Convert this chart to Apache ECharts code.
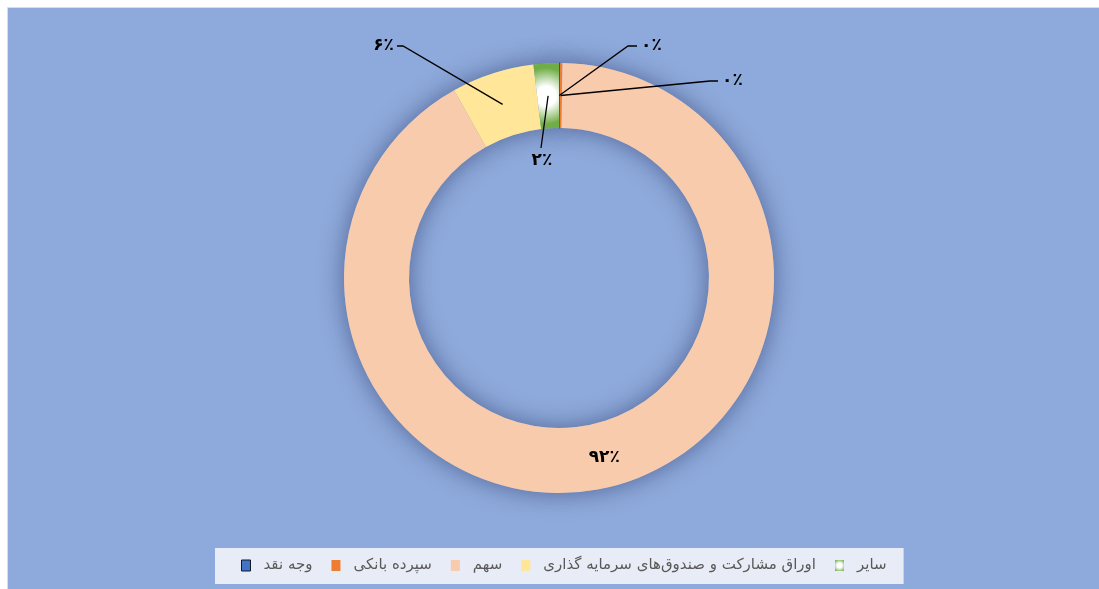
<!DOCTYPE html>
<html>
<head>
<meta charset="utf-8">
<script src="https://cdn.jsdelivr.net/npm/echarts@6/dist/echarts.min.js"></script>
<style>
  html, body { margin: 0; padding: 0; background: #ffffff; }
  #chart { width: 1099px; height: 589px; }
</style>
</head>
<body>
<div id="chart"></div>
<script>
// ---- data ----
const categories = ['وجه نقد', 'سپرده بانکی', 'سهم', 'اوراق مشارکت و صندوق‌های سرمایه گذاری', 'سایر'];
const shares = [0.05, 0.2, 91.65, 6.2, 1.9];

// ---- styles / layout ----
const CX = 559, CY = 278, R_IN = 150, R_OUT = 215;
const R_MID = (R_IN + R_OUT) / 2;
const sliceColors = [
  '#4472C4',
  '#ED7D31',
  '#F8CBAD',
  '#FFE699',
  { type: 'radial', x: 0.5, y: 0.5, r: 1.1,
    colorStops: [{ offset: 0, color: '#ffffff' }, { offset: 0.35, color: '#ffffff' }, { offset: 1, color: '#70AD47' }] }
];
const legendGreen = { type: 'radial', x: 0.5, y: 0.5, r: 0.75,
  colorStops: [{ offset: 0, color: '#ffffff' }, { offset: 0.35, color: '#ffffff' }, { offset: 1, color: '#70AD47' }] };
// label guide placement relative to pie centre (elbow, end, label anchor)
const guides = {
  0: { elbow: [69, -232], end: [78, -232], label: [82, -232], align: 'left' },
  1: { elbow: [151, -197], end: [159, -197], label: [163, -197], align: 'left' },
  3: { elbow: [-156, -232], end: [-162, -232], label: [-165, -232], align: 'right' },
  4: { elbow: null, end: [-18, -130], label: [-17, -117], align: 'center' }
};

const faDigits = '۰۱۲۳۴۵۶۷۸۹';
function toFa(n) { return String(n).replace(/\d/g, d => faDigits[+d]); }

const chart = echarts.init(document.getElementById('chart'), null, { renderer: 'canvas' });

const mainData = categories.map((name, i) => {
  const item = { name: name, value: shares[i], itemStyle: { color: sliceColors[i] } };
  if (i === 0) {
    item.itemStyle.borderColor = '#1F2A44';
    item.itemStyle.borderWidth = 1;
  }
  return item;
});

const labelData = categories.map((name, i) => {
  const item = { name: name, value: shares[i] };
  if (i === 2) {
    item.label = { position: 'inside' };
    item.labelLine = { show: false };
  }
  return item;
});

const shadowData = categories.map((name, i) => ({ name: name, value: shares[i] }));

const pieBase = {
  type: 'pie',
  center: [CX, CY],
  radius: [R_IN, R_OUT],
  startAngle: 90,
  clockwise: true,
  avoidLabelOverlap: false,
  emphasis: { disabled: true }
};

const option = {
  backgroundColor: '#ffffff',
  animation: false,
  graphic: [{
    type: 'rect', z: -10, silent: true,
    shape: { x: 7.5, y: 7.5, width: 1100, height: 590 },
    style: { fill: '#8EA9DB', stroke: '#D6DCE8', lineWidth: 1 }
  }],
  legend: {
    top: 548,
    left: 215,
    data: categories.map((name, i) => {
      if (i === 0) return { name: name, itemStyle: { borderColor: '#111827', borderWidth: 1 } };
      if (i === 4) return { name: name, itemStyle: { color: legendGreen } };
      return { name: name };
    }),
    backgroundColor: '#E7ECF6',
    padding: [10, 17, 11, 26],
    itemWidth: 9,
    itemHeight: 11,
    itemGap: 19,
    icon: 'rect',
    selectedMode: false,
    textStyle: {
      fontFamily: 'DejaVu Sans',
      fontSize: 15,
      color: '#595959',
      padding: [0, 0, 0, 8]
    }
  },
  series: [
    Object.assign({}, pieBase, {
      name: 'main',
      z: 3,
      data: mainData,
      itemStyle: { borderWidth: 0 },
      label: { show: false },
      labelLine: { show: false }
    }),
    Object.assign({}, pieBase, {
      name: 'shadow',
      z: 1,
      silent: true,
      legendHoverLink: false,
      data: shadowData,
      itemStyle: {
        color: '#8EA9DB',
        shadowBlur: 24,
        shadowColor: 'rgba(20, 35, 80, 0.5)'
      },
      label: { show: false },
      labelLine: { show: false }
    }),
    Object.assign({}, pieBase, {
      name: 'labels',
      z: 5,
      silent: true,
      legendHoverLink: false,
      data: labelData,
      itemStyle: { color: 'rgba(0,0,0,0)', borderWidth: 0 },
      label: {
        show: true,
        position: 'outside',
        formatter: p => toFa(Math.round(p.percent)) + '٪',
        fontFamily: 'DejaVu Sans',
        fontWeight: 'bold',
        fontSize: 17,
        color: '#000000'
      },
      labelLine: {
        show: true,
        length: 20,
        length2: 10,
        lineStyle: { color: '#000000', width: 1.3 }
      },
      labelLayout: function (params) {
        const g = guides[params.dataIndex];
        if (!g || !params.labelLinePoints) return;
        const p0 = params.labelLinePoints[0];
        const dx = p0[0] - CX, dy = p0[1] - CY;
        const len = Math.sqrt(dx * dx + dy * dy) || 1;
        const start = [CX + dx / len * R_MID, CY + dy / len * R_MID];
        const pts = [start];
        if (g.elbow) pts.push([CX + g.elbow[0], CY + g.elbow[1]]);
        pts.push([CX + g.end[0], CY + g.end[1]]);
        return {
          x: CX + g.label[0],
          y: CY + g.label[1],
          align: g.align,
          verticalAlign: 'middle',
          labelLinePoints: pts
        };
      }
    })
  ]
};

chart.setOption(option);
</script>
</body>
</html>
